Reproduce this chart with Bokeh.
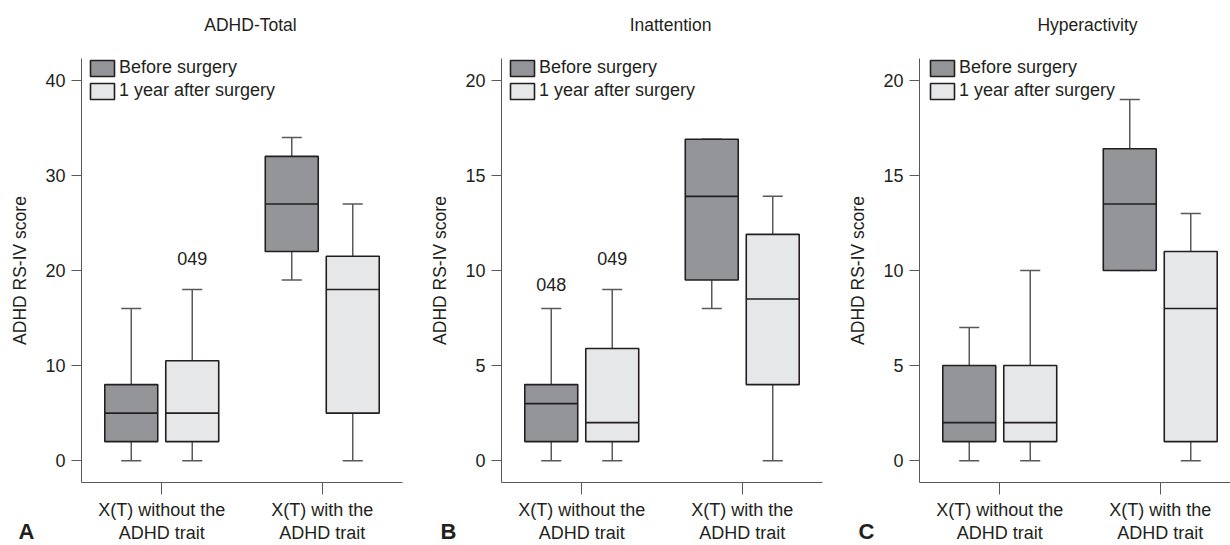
import numpy as np
from bokeh.plotting import figure
from bokeh.layouts import row
from bokeh.models import Range1d, FixedTicker, Label, Legend, LegendItem
from bokeh.embed import file_html
from bokeh.resources import INLINE
from bokeh.core.properties import value

# ---------------- data ----------------
categories = ["X(T) without the\nADHD trait", "X(T) with the\nADHD trait"]
series = ["Before surgery", "1 year after surgery"]
panel_titles = ["ADHD-Total", "Inattention", "Hyperactivity"]
panel_letters = ["A", "B", "C"]
y_label = "ADHD RS-IV score"
y_ticks_total = [0, 10, 20, 30, 40]
y_ticks_sub = [0, 5, 10, 15, 20]

# ADHD-Total  (values per category: [without trait, with trait])
total_before_low = [0, 19]
total_before_q1 = [2, 22]
total_before_med = [5, 27]
total_before_q3 = [8, 32]
total_before_high = [16, 34]
total_after_low = [0, 0]
total_after_q1 = [2, 5]
total_after_med = [5, 18]
total_after_q3 = [10.5, 21.5]
total_after_high = [18, 27]
total_outlier_cat = [0]
total_outlier_series = [1]
total_outlier_y = [21.3]
total_outlier_text = ["049"]

# Inattention
inatt_before_low = [0, 8]
inatt_before_q1 = [1, 9.5]
inatt_before_med = [3, 13.9]
inatt_before_q3 = [4, 16.9]
inatt_before_high = [8, 16.9]
inatt_after_low = [0, 0]
inatt_after_q1 = [1, 4]
inatt_after_med = [2, 8.5]
inatt_after_q3 = [5.9, 11.9]
inatt_after_high = [9, 13.9]
inatt_outlier_cat = [0, 0]
inatt_outlier_series = [0, 1]
inatt_outlier_y = [9.25, 10.65]
inatt_outlier_text = ["048", "049"]

# Hyperactivity
hyper_before_low = [0, 10]
hyper_before_q1 = [1, 10]
hyper_before_med = [2, 13.5]
hyper_before_q3 = [5, 16.4]
hyper_before_high = [7, 19]
hyper_after_low = [0, 0]
hyper_after_q1 = [1, 1]
hyper_after_med = [2, 8]
hyper_after_q3 = [5, 11]
hyper_after_high = [10, 13]
hyper_outlier_cat = []
hyper_outlier_series = []
hyper_outlier_y = []
hyper_outlier_text = []

# ---------------- style ----------------
FONT = "Liberation Sans"
TXT = "#231f20"
AXC = "#58595b"
FILLS = ["#939598", "#e6e7e8"]
BOX_LINE = "#231f20"
WHISK = "#58595b"
PX_PER_CAT = 160.5
OFFSETS = [-0.19, 0.19]
BOX_W = 0.33
CAP_W = 0.125
FIG_H = 545
FRAME_H = 426
TOP_B = 58

panels = [
    dict(title=panel_titles[0], letter=panel_letters[0], ticks=y_ticks_total, yr=(-2.3, 42.3),
         stats=[(total_before_low, total_before_q1, total_before_med, total_before_q3, total_before_high),
                (total_after_low, total_after_q1, total_after_med, total_after_q3, total_after_high)],
         out=(total_outlier_cat, total_outlier_series, total_outlier_y, total_outlier_text),
         width=418, bl=81, br=16, frame_w=321, lx=-63, tx=169, legx=6),
    dict(title=panel_titles[1], letter=panel_letters[1], ticks=y_ticks_sub, yr=(-1.15, 21.15),
         stats=[(inatt_before_low, inatt_before_q1, inatt_before_med, inatt_before_q3, inatt_before_high),
                (inatt_after_low, inatt_after_q1, inatt_after_med, inatt_after_q3, inatt_after_high)],
         out=(inatt_outlier_cat, inatt_outlier_series, inatt_outlier_y, inatt_outlier_text),
         width=418, bl=83, br=14, frame_w=321, lx=-61, tx=169, legx=6),
    dict(title=panel_titles[2], letter=panel_letters[2], ticks=y_ticks_sub, yr=(-1.15, 21.15),
         stats=[(hyper_before_low, hyper_before_q1, hyper_before_med, hyper_before_q3, hyper_before_high),
                (hyper_after_low, hyper_after_q1, hyper_after_med, hyper_after_q3, hyper_after_high)],
         out=(hyper_outlier_cat, hyper_outlier_series, hyper_outlier_y, hyper_outlier_text),
         width=394, bl=83, br=0, frame_w=311, lx=-61, tx=168, legx=8),
]


def make_panel(cfg):
    p = figure(width=cfg["width"], height=FIG_H, title=None,
               x_range=Range1d(0, cfg["frame_w"] / PX_PER_CAT),
               y_range=Range1d(*cfg["yr"]),
               output_backend="svg", toolbar_location=None,
               min_border_left=cfg["bl"], min_border_right=cfg["br"],
               min_border_top=TOP_B, min_border_bottom=FIG_H - TOP_B - FRAME_H)
    p.outline_line_color = None
    p.xgrid.visible = False
    p.ygrid.visible = False
    p.background_fill_color = "white"
    p.border_fill_color = "white"

    cat_pos = np.arange(len(categories)) + 0.5
    items = []
    for s_idx, name in enumerate(series):
        low, q1, med, q3, high = [np.asarray(a, dtype=float) for a in cfg["stats"][s_idx]]
        x = cat_pos + OFFSETS[s_idx]
        p.segment(x0=x, y0=q3, x1=x, y1=high, line_color=WHISK, line_width=1.5)
        p.segment(x0=x, y0=low, x1=x, y1=q1, line_color=WHISK, line_width=1.5)
        p.segment(x0=x - CAP_W / 2, y0=high, x1=x + CAP_W / 2, y1=high, line_color=WHISK, line_width=1.5)
        p.segment(x0=x - CAP_W / 2, y0=low, x1=x + CAP_W / 2, y1=low, line_color=WHISK, line_width=1.5)
        r = p.vbar(x=x, width=BOX_W, bottom=q1, top=q3, fill_color=FILLS[s_idx],
                   line_color=BOX_LINE, line_width=1.6)
        p.segment(x0=x - BOX_W / 2, y0=med, x1=x + BOX_W / 2, y1=med, line_color=BOX_LINE, line_width=1.6)
        items.append(LegendItem(label=name, renderers=[r]))

    oc, os_, oy, ot = cfg["out"]
    if len(ot):
        ox = [cat_pos[c] + OFFSETS[s] for c, s in zip(oc, os_)]
        p.text(x=ox, y=oy, text=ot, text_align="center", text_baseline="middle",
               text_font=value(FONT), text_font_size="18px", text_color=TXT)

    legend = Legend(items=items, location=(cfg["legx"], 381), padding=2, spacing=2, margin=0,
                    glyph_width=30, glyph_height=20, label_standoff=2,
                    border_line_color=None, background_fill_alpha=0,
                    label_text_font=FONT, label_text_font_size="18px", label_text_color=TXT)
    p.add_layout(legend)

    # axes
    xa = p.xaxis[0]
    xa.ticker = FixedTicker(ticks=[float(v) for v in cat_pos])
    xa.major_label_overrides = {float(v): c for v, c in zip(cat_pos, categories)}
    xa.major_tick_in = 0
    xa.major_tick_out = 12
    xa.major_label_standoff = 5
    xa.minor_tick_line_color = None
    xa.axis_line_color = AXC
    xa.major_tick_line_color = AXC
    xa.major_label_text_font = FONT
    xa.major_label_text_font_size = "18px"
    xa.major_label_text_line_height = 1.15
    xa.major_label_text_color = TXT

    ya = p.yaxis[0]
    ya.ticker = FixedTicker(ticks=cfg["ticks"])
    ya.major_tick_in = 0
    ya.major_tick_out = 10
    ya.major_label_standoff = 6
    ya.minor_tick_line_color = None
    ya.axis_line_color = AXC
    ya.major_tick_line_color = AXC
    ya.major_label_text_font = FONT
    ya.major_label_text_font_size = "18px"
    ya.major_label_text_color = TXT
    ya.axis_label = y_label
    ya.axis_label_standoff = 12
    ya.axis_label_text_font = FONT
    ya.axis_label_text_font_size = "17.5px"
    ya.axis_label_text_font_style = "normal"
    ya.axis_label_text_color = TXT

    # panel letter (first panel above the frame, drawn unclipped at the bottom-left)
    p.add_layout(Label(x=cfg["lx"], y=-473, x_units="screen", y_units="screen",
                       text=cfg["letter"], text_align="left", text_baseline="middle",
                       text_font=FONT, text_font_size="22px", text_font_style="bold",
                       text_color=TXT), "above")
    # panel title
    p.add_layout(Label(x=cfg["tx"], y=9, x_units="screen", y_units="screen",
                       text=cfg["title"], text_align="center", text_baseline="middle",
                       text_font=FONT, text_font_size="17.5px", text_color=TXT), "above")
    return p


figs = [make_panel(c) for c in panels]
layout = row(*figs, spacing=0)
open("out.html", "w").write(file_html(layout, INLINE))
